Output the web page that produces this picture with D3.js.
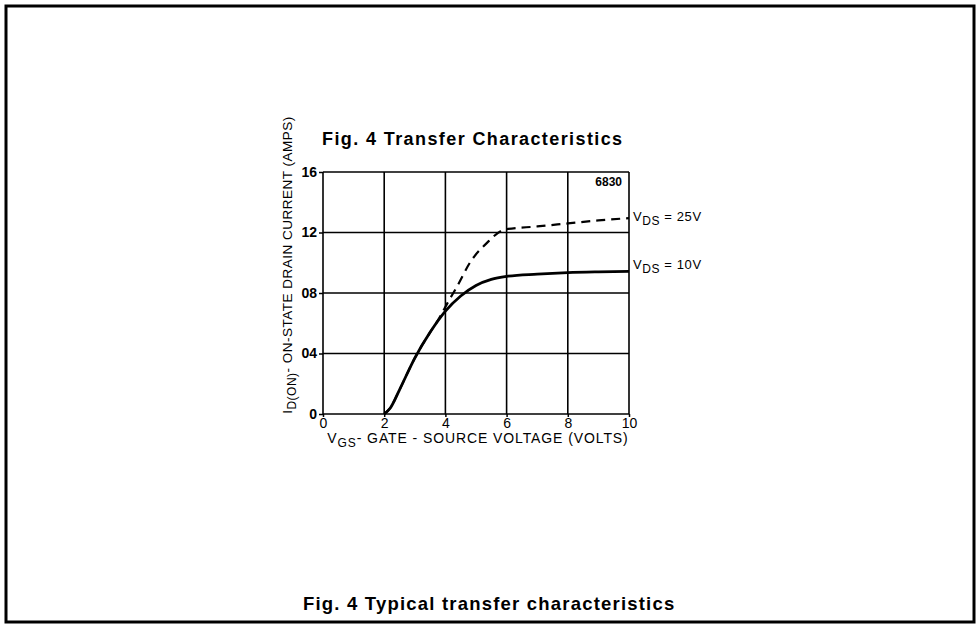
<!DOCTYPE html>
<html lang="en">
  <head>
    <meta charset="utf-8" />
    <title>Fig. 4 Transfer Characteristics</title>
    <style>
      body { margin: 0; background: #fff; }
      svg { display: block; font-family: "Liberation Sans", Arial, sans-serif; }
    </style>
  </head>
  <body>
    <div id="graph-display"></div>
    <script src="https://d3js.org/d3.v7.min.js"></script>
    <script>
      // data
      const vgs10 = [2, 2.2, 2.5, 3, 3.5, 4, 4.5, 5, 5.5, 6, 7, 8, 9, 10];
      const id10 = [0, 0.4, 1.6, 3.7, 5.4, 6.8, 7.8, 8.5, 8.9, 9.1, 9.25, 9.35, 9.4, 9.43];
      const vgs25 = [2, 2.2, 2.5, 3, 3.5, 3.8, 4.1, 4.4, 4.8, 5.35, 5.95, 7, 8, 9, 10];
      const id25 = [0, 0.4, 1.6, 3.7, 5.4, 6.35, 7.45, 8.5, 10.0, 11.3, 12.2, 12.4, 12.6, 12.8, 12.95];
      const xTicks = [0, 2, 4, 6, 8, 10];
      const yTicks = [0, 4, 8, 12, 16];
      const yTickLabels = ["0", "04", "08", "12", "16"];

      const width = 979, height = 628;
      const plot = { left: 323, right: 629, top: 172, bottom: 414 };

      const svg = d3.select("#graph-display").append("svg")
        .attr("width", width).attr("height", height);

      // outer frame
      svg.append("rect")
        .attr("x", 6).attr("y", 6)
        .attr("width", 968).attr("height", 616)
        .attr("fill", "none").attr("stroke", "#000").attr("stroke-width", 3);

      const xScale = d3.scaleLinear().domain([0, 10]).range([plot.left, plot.right]);
      const yScale = d3.scaleLinear().domain([0, 16]).range([plot.bottom, plot.top]);

      // grid
      svg.append("g").selectAll("line").data(xTicks).join("line")
        .attr("x1", d => xScale(d)).attr("x2", d => xScale(d))
        .attr("y1", plot.top).attr("y2", plot.bottom)
        .attr("stroke", "#000").attr("stroke-width", 1.6);
      svg.append("g").selectAll("line").data(yTicks).join("line")
        .attr("x1", plot.left).attr("x2", plot.right)
        .attr("y1", d => yScale(d)).attr("y2", d => yScale(d))
        .attr("stroke", "#000").attr("stroke-width", 1.6);

      // axes (ticks + labels)
      const yAxis = svg.append("g")
        .attr("transform", `translate(${plot.left},0)`)
        .call(d3.axisLeft(yScale).tickValues(yTicks)
          .tickFormat((d, i) => yTickLabels[i]).tickSize(4).tickPadding(2));
      yAxis.select(".domain").remove();
      yAxis.selectAll("line").attr("stroke-width", 1.5);
      yAxis.selectAll("text").attr("font-size", 14).attr("font-weight", "bold")
        .attr("font-family", "Liberation Sans, sans-serif").attr("fill", "#000");

      const xAxis = svg.append("g")
        .attr("transform", `translate(0,${plot.bottom})`)
        .call(d3.axisBottom(xScale).tickValues(xTicks).tickSize(3).tickPadding(1));
      xAxis.select(".domain").remove();
      xAxis.selectAll("line").attr("stroke-width", 1.5);
      xAxis.selectAll("text").attr("font-size", 14)
        .attr("font-family", "Liberation Sans, sans-serif").attr("fill", "#000");

      // curves
      const line = d3.line().x(d => xScale(d[0])).y(d => yScale(d[1])).curve(d3.curveMonotoneX);
      svg.append("path")
        .datum(vgs25.map((v, i) => [v, id25[i]]))
        .attr("d", line).attr("fill", "none").attr("stroke", "#000")
        .attr("stroke-width", 2.2).attr("stroke-dasharray", "9,6");
      svg.append("path")
        .datum(vgs10.map((v, i) => [v, id10[i]]))
        .attr("d", line).attr("fill", "none").attr("stroke", "#000")
        .attr("stroke-width", 2.8);

      // curve labels
      const curveLabel = (y, val) => {
        const t = svg.append("text").attr("x", 633).attr("y", y)
          .attr("font-size", 13).attr("letter-spacing", 0.6).attr("fill", "#000");
        t.append("tspan").text("V");
        t.append("tspan").attr("dy", 4).attr("font-size", 12).text("DS");
        t.append("tspan").attr("dy", -4).text(" = " + val);
      };
      curveLabel(221, "25V");
      curveLabel(269, "10V");

      svg.append("text").attr("x", 622).attr("y", 186).attr("text-anchor", "end")
        .attr("font-size", 12).attr("font-weight", "bold").text("6830");

      // title
      svg.append("text").attr("x", 322).attr("y", 145)
        .attr("font-size", 18).attr("letter-spacing", 1.4)
        .attr("font-weight", "bold").text("Fig. 4 Transfer Characteristics");

      // x axis label
      const xl = svg.append("text").attr("x", 478).attr("y", 443)
        .attr("text-anchor", "middle").attr("font-size", 14)
        .attr("letter-spacing", 0.9).attr("fill", "#000");
      xl.append("tspan").text("V");
      xl.append("tspan").attr("dy", 4).attr("font-size", 12).text("GS");
      xl.append("tspan").attr("dy", -4).text("- GATE - SOURCE  VOLTAGE  (VOLTS)");

      // y axis label
      const yl = svg.append("text")
        .attr("transform", "translate(292,265) rotate(-90)")
        .attr("text-anchor", "middle").attr("font-size", 13.5)
        .attr("letter-spacing", 0.5).attr("fill", "#000");
      yl.append("tspan").text("I");
      yl.append("tspan").attr("dy", 4).attr("font-size", 12).text("D(ON)");
      yl.append("tspan").attr("dy", -4).text("- ON-STATE  DRAIN  CURRENT  (AMPS)");

      // caption
      svg.append("text").attr("x", 303).attr("y", 610)
        .attr("font-size", 18.5).attr("letter-spacing", 1.2)
        .attr("font-weight", "bold").text("Fig. 4 Typical transfer characteristics");
    </script>
  </body>
</html>
